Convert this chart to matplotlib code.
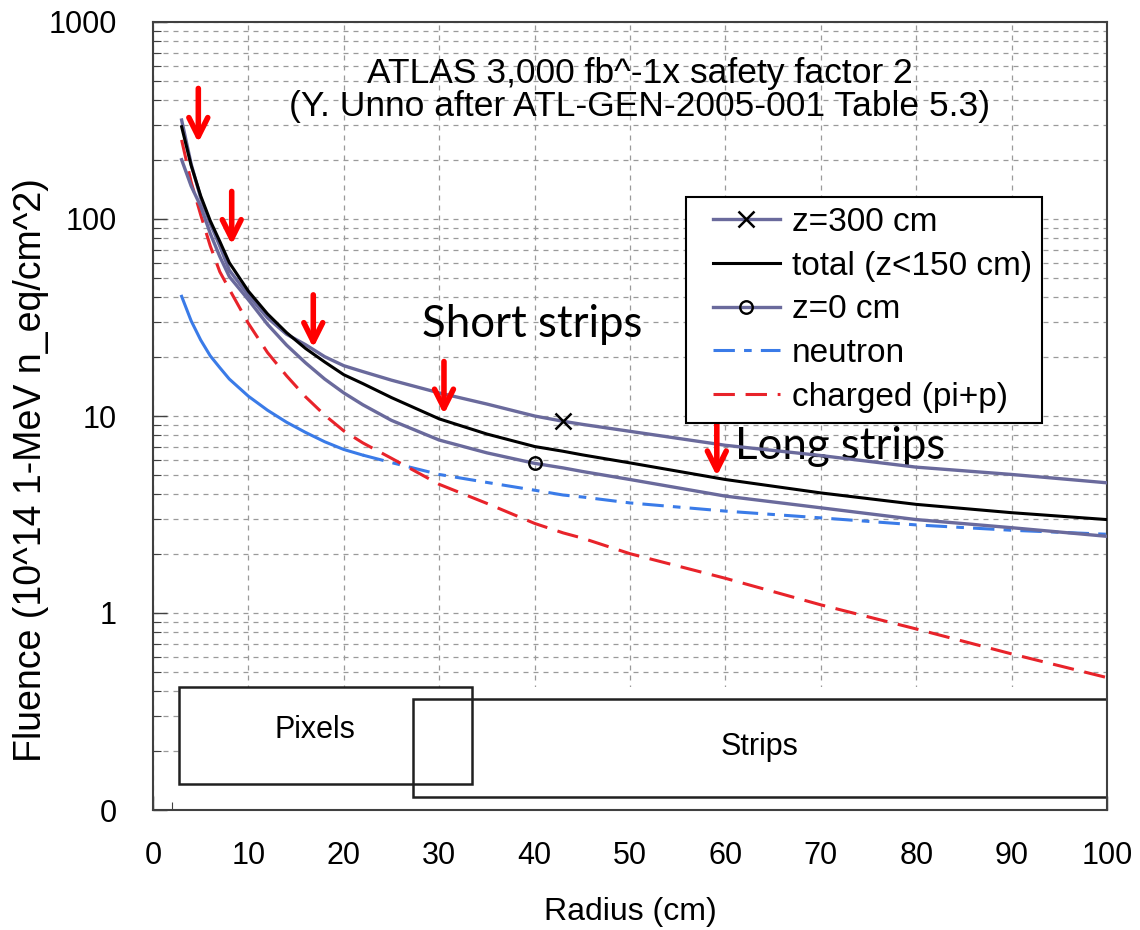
import numpy as np
import matplotlib
matplotlib.use('Agg')
from matplotlib import pyplot as plt
from matplotlib.patches import Rectangle
from matplotlib.lines import Line2D
from matplotlib.legend_handler import HandlerLine2D
from matplotlib.ticker import MultipleLocator, FixedLocator, FixedFormatter, LogLocator, NullFormatter

# radius (cm) and fluence (10^14 1-MeV n_eq/cm^2)
radius = [3, 4, 5, 6, 7, 8, 10, 12, 14, 16, 18, 20, 22, 25, 30, 35, 40, 43, 45, 50, 60, 70, 80, 90, 100]
z300 = [318, 190, 128, 95, 73, 55, 41, 31.5, 26, 23, 20, 18, 16.8, 15.2, 13.1, 11.5, 10.0, 9.4, 9.07, 8.36, 7.1, 6.3, 5.5, 5.05, 4.58]
total = [294, 187, 131, 98, 77, 60, 43, 33, 26.5, 22, 18.8, 16.2, 14.6, 12.4, 9.67, 8.1, 7.0, 6.62, 6.35, 5.78, 4.76, 4.07, 3.56, 3.23, 2.98]
z0 = [200, 147, 116, 84.5, 64.5, 51, 38.9, 29.2, 22.9, 18.6, 15.4, 13.1, 11.4, 9.5, 7.55, 6.5, 5.75, 5.45, 5.23, 4.76, 3.92, 3.42, 2.98, 2.71, 2.45]
neutron = [40.5, 30.4, 24.3, 20.2, 17.6, 15.4, 12.6, 10.7, 9.3, 8.25, 7.4, 6.76, 6.33, 5.8, 5.05, 4.6, 4.2, 3.97, 3.88, 3.62, 3.29, 3.04, 2.8, 2.63, 2.51]
charged = [252, 154, 105, 73, 54, 44, 29.5, 21, 16, 12.5, 10.1, 8.4, 7.3, 6.1, 4.5, 3.6, 2.85, 2.55, 2.4, 2.0, 1.5, 1.1, 0.83, 0.62, 0.47]

# layer arrows (radius, top, tip)
arrow_r = [4.75, 8.25, 16.8, 30.5, 59.1]
arrow_top = [460, 138, 41.2, 18.9, 9.3]
arrow_tip = [244, 74, 22.2, 10.2, 4.95]

# detector boxes: x0, x1, y0, y1
pixels_box = [2.7, 33.4, 0.135, 0.42]
strips_box = [27.3, 100, 0.117, 0.365]

y_ticks = [0.1, 1, 10, 100, 1000]
y_labels = ['0', '1', '10', '100', '1000']


def main(pathout):
    plt.rcParams['font.family'] = ['Liberation Sans', 'DejaVu Sans']

    fig = plt.figure(figsize=(11.4, 9.3), dpi=100, facecolor='w')
    ax = fig.add_axes([153 / 1140, 1 - 810 / 930, 954 / 1140, 788 / 930])

    purple = '#6a6a9c'
    n_split = radius.index(22)

    ax.plot(radius, z300, color=purple, lw=2.4, marker='x', markevery=[radius.index(43)],
            mec='black', ms=11, mew=1.8, label='z=300 cm', zorder=4)
    ax.plot(radius, total, color='black', lw=2.2, label='total (z<150 cm)', zorder=5)
    ax.plot(radius, z0, color=purple, lw=2.4, marker='o', markevery=[radius.index(40)],
            mec='black', mfc='none', ms=9, mew=1.7, label='z=0 cm', zorder=4)
    ax.plot(radius[:n_split + 1], neutron[:n_split + 1], color='#3a7be8', lw=2.2, zorder=3)
    ax.plot(radius[n_split:], neutron[n_split:], color='#3a7be8', lw=2.2,
            linestyle=(0, (7, 3, 2.5, 3)), label='neutron', zorder=3)
    ax.plot(radius, charged, color='#e8232a', lw=2.2, linestyle=(0, (7, 3.5)),
            label='charged (pi+p)', zorder=3)

    for r, top, tip in zip(arrow_r, arrow_top, arrow_tip):
        ax.annotate('', xy=(r, tip), xytext=(r, top), zorder=6,
                    arrowprops=dict(arrowstyle='->', color='red', lw=4, mutation_scale=34,
                                    shrinkA=0, shrinkB=0))

    ax.set_yscale('log')
    ax.set_xlim(0, 100)
    ax.set_ylim(0.1, 1000)

    ax.xaxis.set_major_locator(MultipleLocator(10))
    ax.xaxis.set_minor_locator(MultipleLocator(2))
    ax.yaxis.set_major_locator(FixedLocator(y_ticks))
    ax.yaxis.set_major_formatter(FixedFormatter(y_labels))
    ax.yaxis.set_minor_locator(LogLocator(base=10, subs=np.arange(2, 10)))
    ax.yaxis.set_minor_formatter(NullFormatter())

    ax.tick_params(which='both', direction='in', colors='#404040', labelcolor='black', labelsize=22)
    ax.tick_params(which='major', length=10, width=1)
    ax.tick_params(which='minor', length=6, width=0.8)
    ax.tick_params(axis='x', pad=22)
    ax.tick_params(axis='y', pad=26)
    for s in ax.spines.values():
        s.set_color('#404040')
        s.set_linewidth(1.5)

    ax.set_axisbelow(True)
    ax.grid(which='major', axis='x', color='#9a9a9a', lw=0.9, linestyle=(0, (4, 4)))
    ax.grid(which='both', axis='y', color='#9a9a9a', lw=0.9, linestyle=(0, (4, 4)))

    # white area behind the detector boxes
    ax.add_patch(Rectangle((pixels_box[0], 0.1), 100 - pixels_box[0], pixels_box[3] - 0.1,
                           facecolor='white', edgecolor='none', zorder=1))
    for b in (pixels_box, strips_box):
        ax.add_patch(Rectangle((b[0], b[2]), b[1] - b[0], b[3] - b[2],
                               facecolor='none', edgecolor='#202020', lw=1.8, zorder=2))
    ax.text(17.0, 0.254, 'Pixels', fontsize=22, ha='center', va='center')
    ax.text(63.6, 0.21, 'Strips', fontsize=22, ha='center', va='center')

    ax.text(51, 550, 'ATLAS 3,000 fb^-1x safety factor 2', fontsize=25.5, ha='center', va='center')
    ax.text(51, 372, '(Y. Unno after ATL-GEN-2005-001 Table 5.3)', fontsize=25.5, ha='center', va='center')
    ax.text(28.2, 29.1, 'Short strips', fontsize=31.5, family=['Lato', 'DejaVu Sans'], ha='left', va='center')
    ax.text(61.0, 7.0, 'Long strips', fontsize=31.5, family=['Lato', 'DejaVu Sans'], ha='left', va='center')

    leg = ax.legend(loc='upper left', bbox_to_anchor=(0.559, 0.778), borderaxespad=0,
                    fontsize=24, handlelength=2.5, handletextpad=0.36, labelspacing=0.38,
                    borderpad=0.3, numpoints=1, fancybox=False, framealpha=1,
                    handler_map={Line2D: HandlerLine2D(xpad=0.5)})
    leg.get_frame().set_edgecolor('black')
    leg.get_frame().set_linewidth(1.5)
    leg.set_zorder(7)

    fig.text(630 / 1140, 1 - 912 / 930, 'Radius (cm)', fontsize=23, ha='center', va='center')
    fig.text(31 / 1140, 1 - 470 / 930, 'Fluence (10^14 1-MeV n_eq/cm^2)', fontsize=27,
             ha='center', va='center', rotation=90)

    fig.savefig(pathout, dpi=100)
    plt.close()
    return


if __name__ == "__main__":
    main('out.png')
